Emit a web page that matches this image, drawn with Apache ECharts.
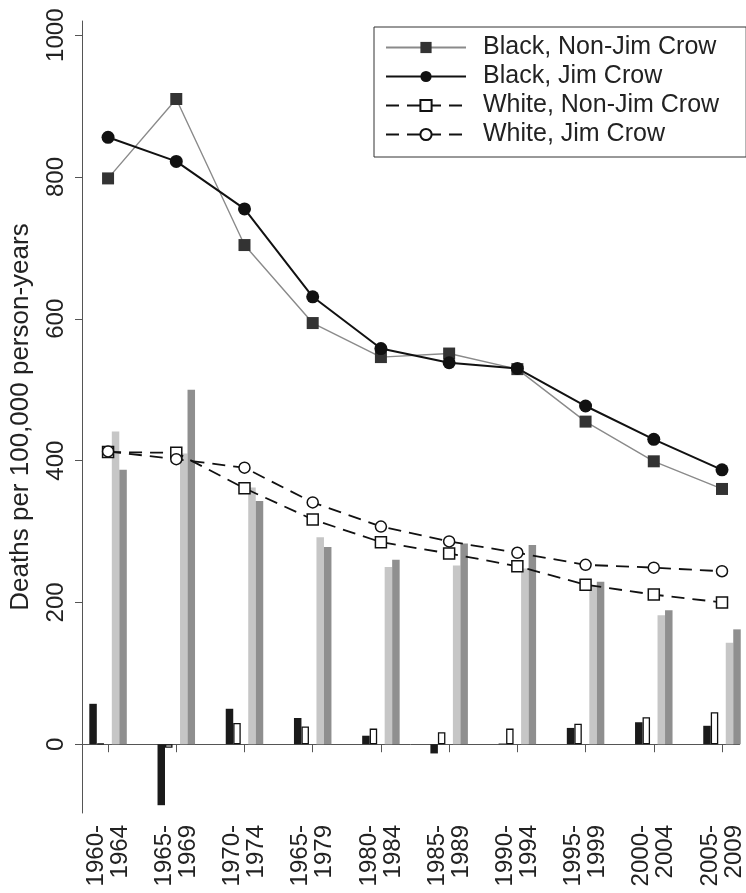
<!DOCTYPE html>
<html>
<head>
<meta charset="utf-8">
<script src="https://cdn.jsdelivr.net/npm/echarts@6/dist/echarts.min.js"></script>
<style>
  html, body { margin: 0; padding: 0; background: #fff; }
  #chart { width: 746px; height: 893px; }
</style>
</head>
<body>
<div id="chart"></div>
<script>
// period labels (as printed on the original axis)
const periods = ['1960-\n1964', '1965-\n1969', '1970-\n1974', '1965-\n1979', '1980-\n1984',
                 '1985-\n1989', '1990-\n1994', '1995-\n1999', '2000-\n2004', '2005-\n2009'];
const yTicks = [0, 200, 400, 600, 800, 1000];

// lines, deaths per 100,000 person-years
const blackNonJimCrow = [798, 910, 704, 594, 546, 551, 529, 455, 399, 360];
const blackJimCrow    = [856, 822, 755, 631, 558, 538, 530, 477, 430, 387];
const whiteNonJimCrow = [412, 411, 361, 317, 285, 269, 251, 225, 211, 200];
const whiteJimCrow    = [413, 402, 390, 341, 307, 286, 270, 253, 249, 244];

// bars under the lines
const barBlack = [57, -86, 50, 37, 12, -13, 1, 23, 31, 26];
const barWhite = [1, -5, 30, 25, 22, 17, 22, 29, 38, 45];
const barLight = [441, 410, 362, 292, 250, 252, 248, 223, 182, 143];
const barDark  = [387, 500, 343, 278, 260, 283, 281, 229, 189, 162];

const font = "'Liberation Sans', Arial, Helvetica, sans-serif";
const ink = '#222';
const axisCol = '#555';
const xs = periods.map((p, i) => i + 1);
const pts = arr => arr.map((v, i) => [i + 1, v]);

const chart = echarts.init(document.getElementById('chart'));

const bar = (name, data, color, border) => ({
    name,
    type: 'bar',
    data: data ? pts(data) : xs.map(x => [x, null]),
    barWidth: 7.5,
    barGap: '0%',
    itemStyle: border ? { color, borderColor: border, borderWidth: 1.3 } : { color },
    silent: true
});

chart.setOption({
    animation: false,
    textStyle: { fontFamily: font },
    grid: { left: 82, right: 0, top: 21, bottom: 80 },
    legend: {
        data: ['Black, Non-Jim Crow', 'Black, Jim Crow', 'White, Non-Jim Crow', 'White, Jim Crow'],
        orient: 'vertical',
        left: 374,
        top: 27,
        padding: [6, 27, 8, 11],
        itemWidth: 80,
        itemHeight: 14,
        itemGap: 0,
        borderColor: '#333',
        borderWidth: 1,
        backgroundColor: '#fff',
        textStyle: { fontSize: 25, lineHeight: 29, color: ink, fontFamily: font, padding: [0, 0, 0, 12] }
    },
    xAxis: {
        type: 'value',
        min: 0.618,
        max: 10.257,
        axisLine: { show: true, lineStyle: { color: axisCol, width: 1 } },
        axisTick: { show: true, length: 8, customValues: xs, lineStyle: { color: axisCol } },
        axisLabel: {
            customValues: xs,
            rotate: 90,
            margin: 12,
            fontSize: 24,
            lineHeight: 24,
            color: ink,
            fontFamily: font,
            formatter: v => periods[Math.round(v) - 1] || ''
        },
        splitLine: { show: false }
    },
    yAxis: {
        type: 'value',
        min: -97,
        max: 1020,
        name: 'Deaths per 100,000 person-years',
        nameLocation: 'middle',
        nameRotate: 90,
        nameGap: 48,
        nameTextStyle: { fontSize: 26, color: ink, fontFamily: font },
        axisLine: { show: true, lineStyle: { color: axisCol, width: 1 } },
        axisTick: { show: true, length: 7, customValues: yTicks, lineStyle: { color: axisCol } },
        axisLabel: {
            customValues: yTicks,
            rotate: 90,
            margin: 14,
            fontSize: 24,
            color: ink,
            fontFamily: font,
            formatter: v => String(v)
        },
        splitLine: { show: false }
    },
    series: [
        bar('bar black', barBlack, '#1a1a1a'),
        bar('bar white', barWhite, '#ffffff', '#111'),
        bar('gap', null, 'rgba(0,0,0,0)'),
        bar('bar light', barLight, '#c6c6c6'),
        bar('bar dark', barDark, '#8f8f8f'),
        {
            name: 'Black, Non-Jim Crow',
            type: 'line',
            data: pts(blackNonJimCrow),
            symbol: 'rect',
            symbolSize: 12,
            lineStyle: { color: '#8a8a8a', width: 1.4 },
            itemStyle: { color: '#333' },
            z: 3
        },
        {
            name: 'Black, Jim Crow',
            type: 'line',
            data: pts(blackJimCrow),
            symbol: 'circle',
            symbolSize: 13,
            lineStyle: { color: '#111', width: 2 },
            itemStyle: { color: '#111' },
            z: 3
        },
        {
            name: 'White, Non-Jim Crow',
            type: 'line',
            data: pts(whiteNonJimCrow),
            symbol: 'rect',
            symbolSize: 11,
            lineStyle: { color: '#111', width: 1.8, type: [13, 8] },
            itemStyle: { color: '#fff', borderColor: '#111', borderWidth: 1.5 },
            z: 3
        },
        {
            name: 'White, Jim Crow',
            type: 'line',
            data: pts(whiteJimCrow),
            symbol: 'circle',
            symbolSize: 11,
            lineStyle: { color: '#111', width: 1.8, type: [13, 8] },
            itemStyle: { color: '#fff', borderColor: '#111', borderWidth: 1.5 },
            z: 3
        }
    ]
});
</script>
</body>
</html>
